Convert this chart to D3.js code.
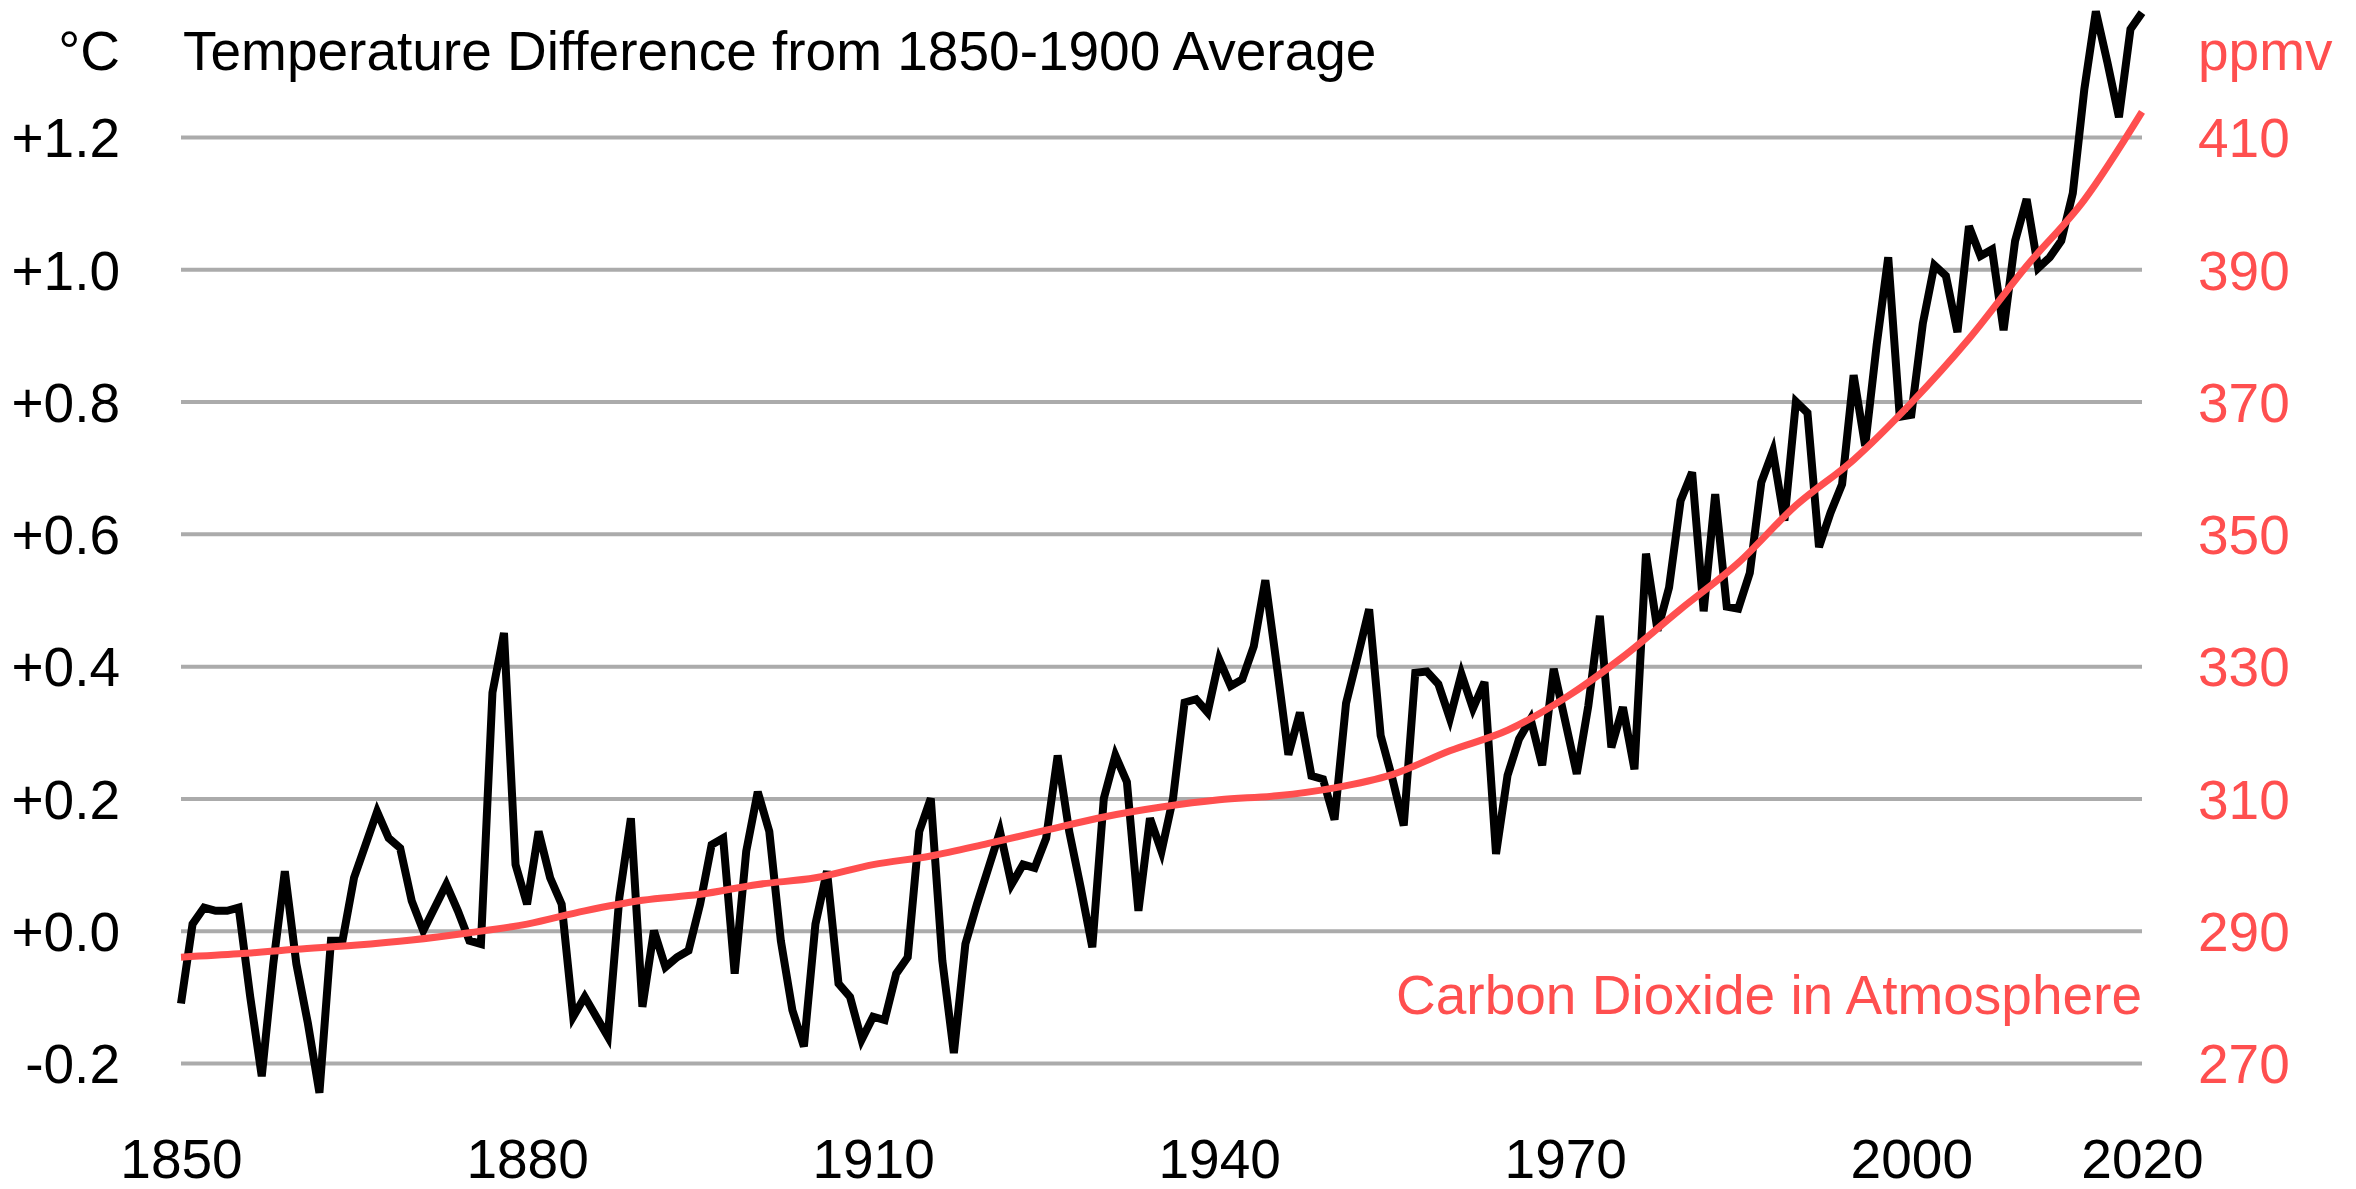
<!DOCTYPE html>
<html>
<head>
<meta charset="utf-8">
<script src="https://cdn.jsdelivr.net/npm/d3@7"></script>
<style>
  body { margin: 0; background: #fff; }
  svg { display: block; font-family: "Liberation Sans", Arial, sans-serif; }
</style>
</head>
<body>
<svg id="chart"></svg>
<script>
var width = 2356,
    height = 1189;

// annual temperature difference from 1850-1900 average, 1850..2020
var years = d3.range(1850, 2021);
var tempValues = [
  -0.11, 0.01, 0.035, 0.03, 0.03, 0.035, -0.10, -0.22, -0.05, 0.09,
  -0.05, -0.14, -0.245, -0.015, -0.015, 0.08, 0.13, 0.18, 0.14, 0.125,
  0.045, 0.0, 0.035, 0.07, 0.03, -0.015, -0.02, 0.36, 0.45, 0.10,
  0.04, 0.15, 0.08, 0.04, -0.13, -0.10, -0.13, -0.16, 0.05, 0.17,
  -0.115, 0.0, -0.055, -0.04, -0.03, 0.04, 0.13, 0.14, -0.065, 0.12,
  0.21, 0.15, -0.015, -0.12, -0.175, 0.01, 0.09, -0.08, -0.10, -0.165,
  -0.13, -0.135, -0.065, -0.04, 0.15, 0.20, -0.045, -0.185, -0.02, 0.04,
  0.095, 0.15, 0.07, 0.10, 0.095, 0.14, 0.265, 0.15, 0.065, -0.025,
  0.20, 0.265, 0.225, 0.03, 0.17, 0.12, 0.20, 0.345, 0.35, 0.33,
  0.41, 0.37, 0.38, 0.43, 0.53, 0.40, 0.266, 0.33, 0.234, 0.229,
  0.168, 0.344, 0.414, 0.486, 0.295, 0.231, 0.159, 0.39, 0.392, 0.373,
  0.321, 0.388, 0.336, 0.376, 0.116, 0.235, 0.29, 0.32, 0.25, 0.396,
  0.317, 0.237, 0.34, 0.476, 0.277, 0.338, 0.244, 0.57, 0.454, 0.519,
  0.65, 0.693, 0.483, 0.66, 0.49, 0.487, 0.541, 0.678, 0.725, 0.62,
  0.80, 0.783, 0.58, 0.632, 0.675, 0.84, 0.733, 0.886, 1.018, 0.777,
  0.78, 0.918, 1.006, 0.99, 0.905, 1.065, 1.02, 1.03, 0.908, 1.043,
  1.106, 1.002, 1.018, 1.043, 1.115, 1.272, 1.39, 1.313, 1.23, 1.363,
  1.388
];

// carbon dioxide in atmosphere (ppmv), every 5 years
var co2Years = d3.range(1850, 2021, 5);
var co2Values = [
  286.0, 286.5, 287.2, 287.8, 288.6, 289.7, 291.0, 293.0, 294.6, 295.5,
  297.0, 298.0, 300.0, 301.3, 303.2, 305.2, 307.2, 308.7, 309.8, 310.4,
  311.6, 313.6, 317.2, 320.3, 325.2, 331.4, 338.6, 345.6, 354.3, 361.2,
  369.8, 379.5, 390.5, 400.5, 413.8
];

var tempTicks = [-0.2, 0.0, 0.2, 0.4, 0.6, 0.8, 1.0, 1.2];
var co2Ticks = [270, 290, 310, 330, 350, 370, 390, 410];
var yearTicks = [1850, 1880, 1910, 1940, 1970, 2000, 2020];

var PLOT = { LEFT: 181, RIGHT: 2142, TOP: 137, BOTTOM: 1063 };
var FONT = 55;
var RED = '#ff4f4f';

var xScale = d3.scaleLinear().domain([1850, 2020]).range([PLOT.LEFT, PLOT.RIGHT]);
var yScale = d3.scaleLinear().domain([-0.2, 1.2]).range([PLOT.BOTTOM, PLOT.TOP]);
var co2Scale = d3.scaleLinear().domain([270, 410]).range([PLOT.BOTTOM, PLOT.TOP]);

var svg = d3.select('#chart')
    .attr('width', width)
    .attr('height', height);

svg.append('rect').attr('width', width).attr('height', height).attr('fill', '#fff');

// left axis with gridlines
var yAxis = d3.axisLeft(yScale)
    .tickValues(tempTicks)
    .tickSize(-(PLOT.RIGHT - PLOT.LEFT))
    .tickPadding(61)
    .tickFormat(function (d) {
        return (d >= 0 ? '+' : '') + d.toFixed(1);
    });

var gy = svg.append('g')
    .attr('transform', 'translate(' + PLOT.LEFT + ',0)')
    .call(yAxis);
gy.select('.domain').remove();
gy.selectAll('line').attr('stroke', '#ababab').attr('stroke-width', 4);
gy.selectAll('text')
    .attr('fill', '#000')
    .style('font-size', FONT + 'px')
    .attr('dy', '0.36em');

// right axis, ppmv
var co2Axis = d3.axisRight(co2Scale)
    .tickValues(co2Ticks)
    .tickSize(0)
    .tickPadding(56);

var gr = svg.append('g')
    .attr('transform', 'translate(' + PLOT.RIGHT + ',0)')
    .call(co2Axis);
gr.select('.domain').remove();
gr.selectAll('text')
    .attr('fill', RED)
    .style('font-size', FONT + 'px')
    .attr('dy', '0.36em');

// bottom axis, years
var xAxis = d3.axisBottom(xScale)
    .tickValues(yearTicks)
    .tickSize(0)
    .tickPadding(76)
    .tickFormat(d3.format('d'));

var gx = svg.append('g')
    .attr('transform', 'translate(0,' + PLOT.BOTTOM + ')')
    .call(xAxis);
gx.select('.domain').remove();
gx.selectAll('text')
    .attr('fill', '#000')
    .style('font-size', FONT + 'px');

// temperature line
var tempLine = d3.line()
    .x(function (d, i) { return xScale(years[i]); })
    .y(function (d) { return yScale(d); });

svg.append('path')
    .datum(tempValues)
    .attr('fill', 'none')
    .attr('stroke', '#000')
    .attr('stroke-width', 8)
    .attr('stroke-linejoin', 'miter')
    .attr('d', tempLine);

// CO2 line
var co2Line = d3.line()
    .x(function (d, i) { return xScale(co2Years[i]); })
    .y(function (d) { return co2Scale(d); })
    .curve(d3.curveMonotoneX);

svg.append('path')
    .datum(co2Values)
    .attr('fill', 'none')
    .attr('stroke', RED)
    .attr('stroke-width', 7)
    .attr('d', co2Line);

// titles and labels
svg.append('text')
    .attr('x', 120).attr('y', 70)
    .attr('text-anchor', 'end')
    .style('font-size', FONT + 'px')
    .attr('fill', '#000')
    .text('°C');

svg.append('text')
    .attr('x', 183).attr('y', 70)
    .style('font-size', FONT + 'px')
    .attr('fill', '#000')
    .text('Temperature Difference from 1850-1900 Average');

svg.append('text')
    .attr('x', 2198).attr('y', 70)
    .style('font-size', FONT + 'px')
    .attr('fill', RED)
    .text('ppmv');

svg.append('text')
    .attr('x', PLOT.RIGHT).attr('y', 1014)
    .attr('text-anchor', 'end')
    .style('font-size', FONT + 'px')
    .attr('fill', RED)
    .text('Carbon Dioxide in Atmosphere');
</script>
</body>
</html>
